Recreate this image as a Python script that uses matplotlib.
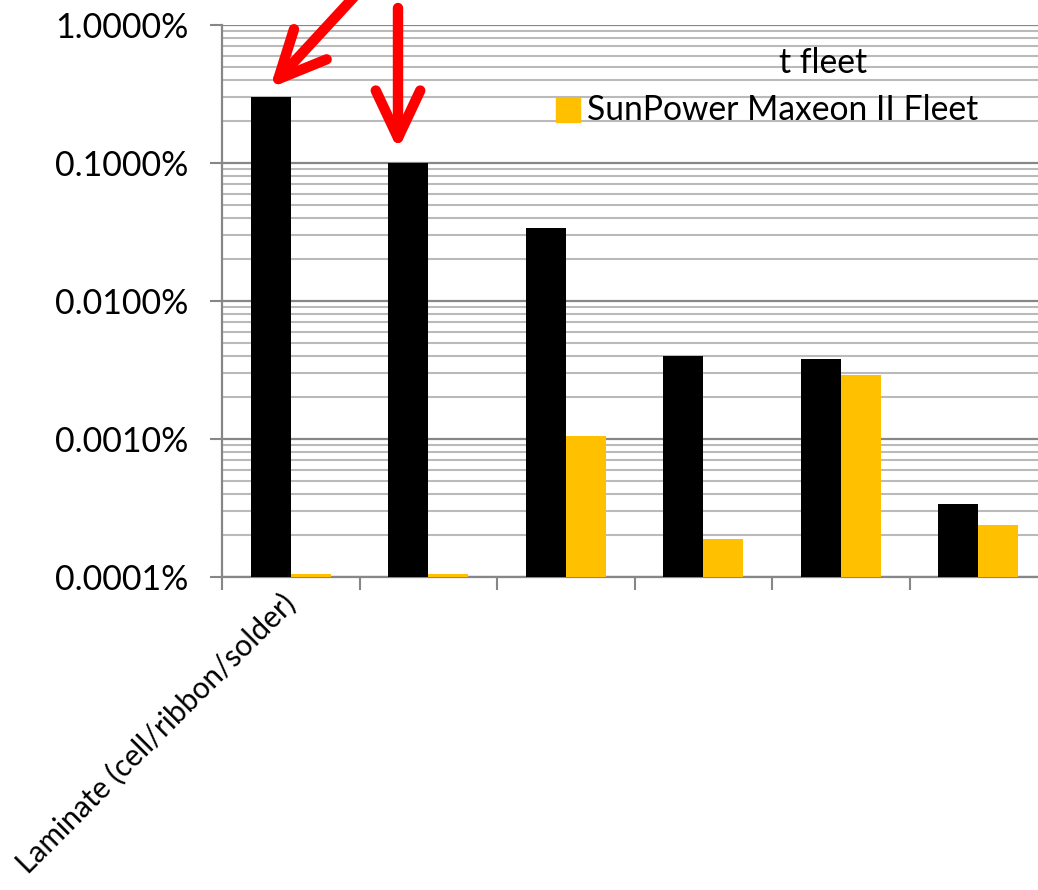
import numpy as np
import matplotlib
matplotlib.use("Agg")
import matplotlib.pyplot as plt
from matplotlib.ticker import FuncFormatter, LogLocator, FixedLocator
from matplotlib.patches import FancyArrowPatch, Rectangle

plt.rcParams['font.family'] = ['Lato', 'DejaVu Sans']

# Categories (only the first label is readable in the source)
categories = ["Laminate (cell/ribbon/solder)", "", "", "", "", ""]

# Failure rates as fractions (axis shown in %)
fleet_black = [3.0e-3, 1.0e-3, 3.38e-4, 4.0e-5, 3.8e-5, 3.4e-6]
maxeon_ii = [1.05e-6, 1.05e-6, 1.05e-5, 1.9e-6, 2.9e-5, 2.4e-6]

legend_labels = ["t fleet", "SunPower Maxeon II Fleet"]

W, H = 1038, 890
fig = plt.figure(figsize=(W / 100, H / 100), dpi=100)
ax = fig.add_axes([222 / W, 1 - 577 / H, (1047 - 222) / W, (577 - 25) / H])

x = np.arange(len(categories))
bw = 0.29
ax.bar(x - bw / 2, fleet_black, width=bw, color='black', zorder=3)
ax.bar(x + bw / 2, maxeon_ii, width=bw, color='#FFC000', zorder=3)

ax.set_yscale('log')
ax.set_ylim(1e-6, 1e-2)
ax.set_xlim(-0.5, len(categories) - 0.5)

ax.yaxis.set_major_locator(LogLocator(base=10, numticks=10))
ax.yaxis.set_minor_locator(LogLocator(base=10, subs=np.arange(2, 10), numticks=20))
ax.yaxis.set_major_formatter(FuncFormatter(lambda v, p: f"{v * 100:.4f}%"))
ax.yaxis.set_minor_formatter(FuncFormatter(lambda v, p: ""))

ax.grid(True, which='major', axis='y', color='#878787', linewidth=1.6)
ax.grid(True, which='minor', axis='y', color='#bababa', linewidth=1.5)
ax.set_axisbelow(True)

ax.set_xticks(x)
ax.set_xticklabels(categories, rotation=45, ha='right', va='center',
                   rotation_mode='anchor', fontsize=21.5)
ax.xaxis.set_minor_locator(FixedLocator(np.arange(-0.5, len(categories), 1.0)))
ax.tick_params(axis='x', which='major', length=0, pad=16)
ax.tick_params(axis='x', which='minor', length=9, width=1.5, color='#878787', direction='out')
ax.tick_params(axis='y', which='major', length=9, width=1.5, color='#878787',
               labelsize=24.5, pad=15)
ax.tick_params(axis='y', which='minor', length=0)

for s in ['top', 'right']:
    ax.spines[s].set_visible(False)
for s in ['left', 'bottom']:
    ax.spines[s].set_color('#878787')
    ax.spines[s].set_linewidth(1.6)

# legend (partly covered in the source)
fig.text(779 / W, 1 - 73 / H, legend_labels[0], fontsize=24.2, ha='left', va='baseline')
fig.patches.append(Rectangle((556 / W, 1 - 122 / H), 24 / W, 24 / H,
                             transform=fig.transFigure, color='#FFC000', zorder=5))
fig.text(587 / W, 1 - 120 / H, legend_labels[1], fontsize=24.2, ha='left', va='baseline')


# red arrows
def red_arrow(p0, p1):
    a = FancyArrowPatch((p0[0] / W, 1 - p0[1] / H), (p1[0] / W, 1 - p1[1] / H),
                        transform=fig.transFigure,
                        arrowstyle='->,head_length=34,head_width=16',
                        mutation_scale=1,
                        color='#ff0000', linewidth=7.5, capstyle='round', joinstyle='round',
                        shrinkA=0, shrinkB=0, zorder=10)
    fig.add_artist(a)


red_arrow((365, -15), (270, 88))
red_arrow((398, 8), (398, 150))

fig.savefig('out.png', dpi=100)
